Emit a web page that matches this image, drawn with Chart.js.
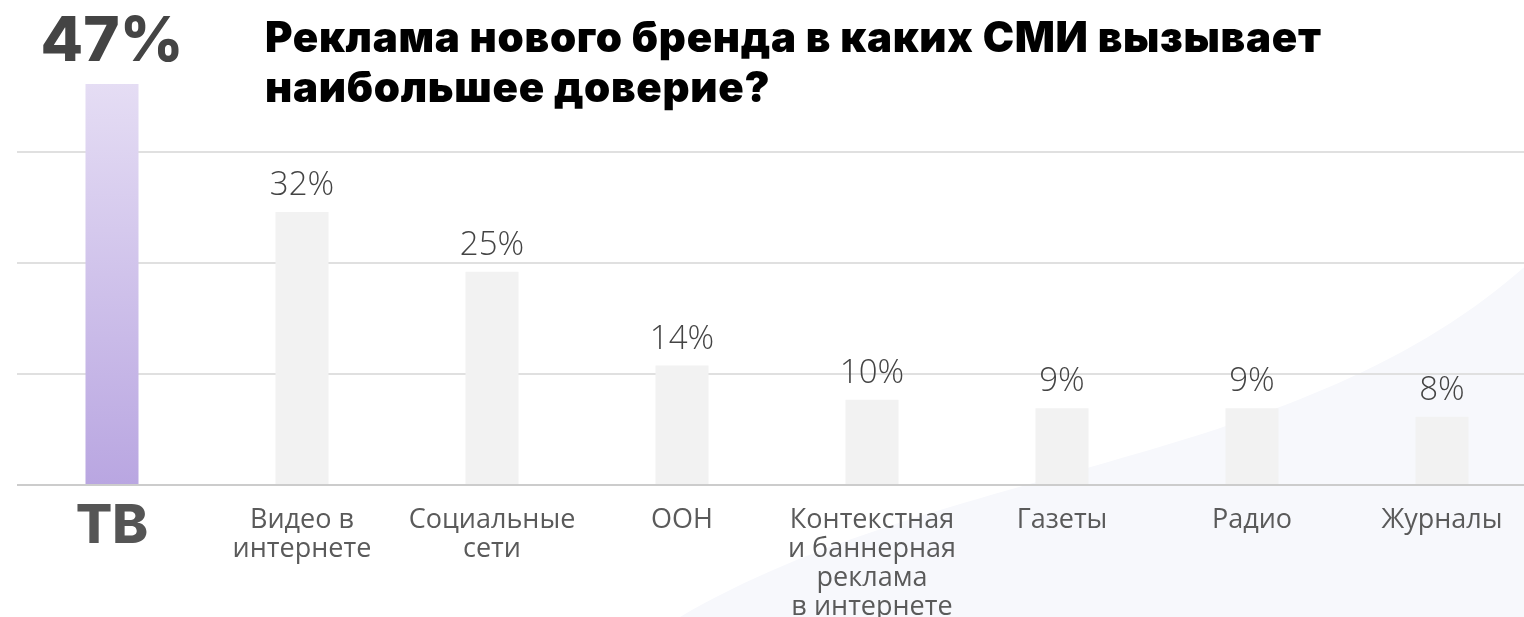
<!DOCTYPE html>
<html><head><meta charset="utf-8">
<script src="https://cdn.jsdelivr.net/npm/chart.js@4.4.1/dist/chart.umd.min.js"></script>
<style>
html,body{margin:0;padding:0;background:#fff;overflow:hidden;width:1524px;height:617px;}
#wrap{position:absolute;left:0;top:0;width:1540px;height:617px;}
#title{position:absolute;left:265px;top:12px;font-family:Inter,"Noto Sans",sans-serif;font-weight:900;font-size:42px;letter-spacing:0.7px;line-height:50px;color:#000;white-space:nowrap;}
</style></head><body>
<div id="wrap"><canvas id="c" width="1540" height="617"></canvas></div>
<div id="title">Реклама нового бренда в каких СМИ вызывает<br>наибольшее доверие?</div>
<script>
const categories = [['ТВ'], ['Видео в','интернете'], ['Социальные','сети'], ['ООН'], ['Контекстная','и баннерная','реклама','в интернете'], ['Газеты'], ['Радио'], ['Журналы']];
const values = [47, 32, 25, 14, 10, 9, 9, 8];
const valueLabels = ['47%','32%','25%','14%','10%','9%','9%','8%'];
const gridStep = 13;

const bgWave = {
  id:'bgWave',
  beforeDraw(chart){
    const c = chart.ctx;
    c.save();
    c.fillStyle = '#f7f8fc';
    c.beginPath();
    c.moveTo(680, 617);
    c.bezierCurveTo(950, 460, 1300, 470, 1530, 262);
    c.lineTo(1540, 250);
    c.lineTo(1540, 617);
    c.closePath();
    c.fill();
    c.restore();
  }
};
const valueLabelPlugin = {
  id:'valueLabels',
  afterDraw(chart){
    const c = chart.ctx;
    const meta = chart.getDatasetMeta(0);
    c.save();
    c.textAlign = 'center';
    c.textBaseline = 'alphabetic';
    meta.data.forEach((bar, i) => {
      if (i === 0) {
        c.font = '800 62px Inter, "Noto Sans", sans-serif';
        c.fillStyle = '#444';
        c.fillText(valueLabels[i], bar.x, bar.y - 23);
      } else {
        c.font = '300 33px "Open Sans", sans-serif';
        c.fillStyle = '#444';
        c.fillText(valueLabels[i], bar.x, bar.y - 17);
      }
    });
    c.restore();
  }
};

new Chart(document.getElementById('c'), {
  type:'bar',
  data:{
    labels: categories,
    datasets:[{
      data: values,
      backgroundColor: (ctx) => {
        if (ctx.dataIndex === 0) {
          const ca = ctx.chart.chartArea;
          if (!ca) return '#c9b9e8';
          const g = ctx.chart.ctx.createLinearGradient(0, ca.top, 0, ca.bottom);
          g.addColorStop(0, '#e5ddf4');
          g.addColorStop(1, '#b9a6e1');
          return g;
        }
        return '#f2f2f2';
      },
      borderWidth:0,
      barPercentage:0.279,
      categoryPercentage:1
    }]
  },
  options:{
    responsive:false,
    animation:false,
    layout:{padding:{left:17, right:3, top:84, bottom:0}},
    plugins:{legend:{display:false}, tooltip:{enabled:false}},
    scales:{
      x:{
        grid:{display:false, drawTicks:false},
        border:{display:false},
        afterFit(scale){ scale.height = 132; },
        ticks:{
          autoSkip:false, maxRotation:0, minRotation:0, padding:21,
          color:(ctx)=> ctx.index===0 ? '#555' : '#5a5a5a',
          font:(ctx)=> ctx.index===0 ? {family:'Inter, "Noto Sans", sans-serif', size:54, weight:'800', lineHeight:0.78} : {family:'"Open Sans", sans-serif', size:27, weight:'400', lineHeight:1.075}
        }
      },
      y:{
        min:0, max:47,
        afterFit(scale){ scale.width = 0; },
        border:{display:false},
        ticks:{display:false, stepSize:gridStep},
        grid:{
          drawTicks:false,
          lineWidth:2,
          color:(ctx)=>{
            const v = ctx.tick.value;
            if (v === 0) return '#cccccc';
            return (v % gridStep === 0) ? '#e0e0e0' : 'rgba(0,0,0,0)';
          }
        }
      }
    }
  },
  plugins:[bgWave, valueLabelPlugin]
});
</script>
</body></html>
